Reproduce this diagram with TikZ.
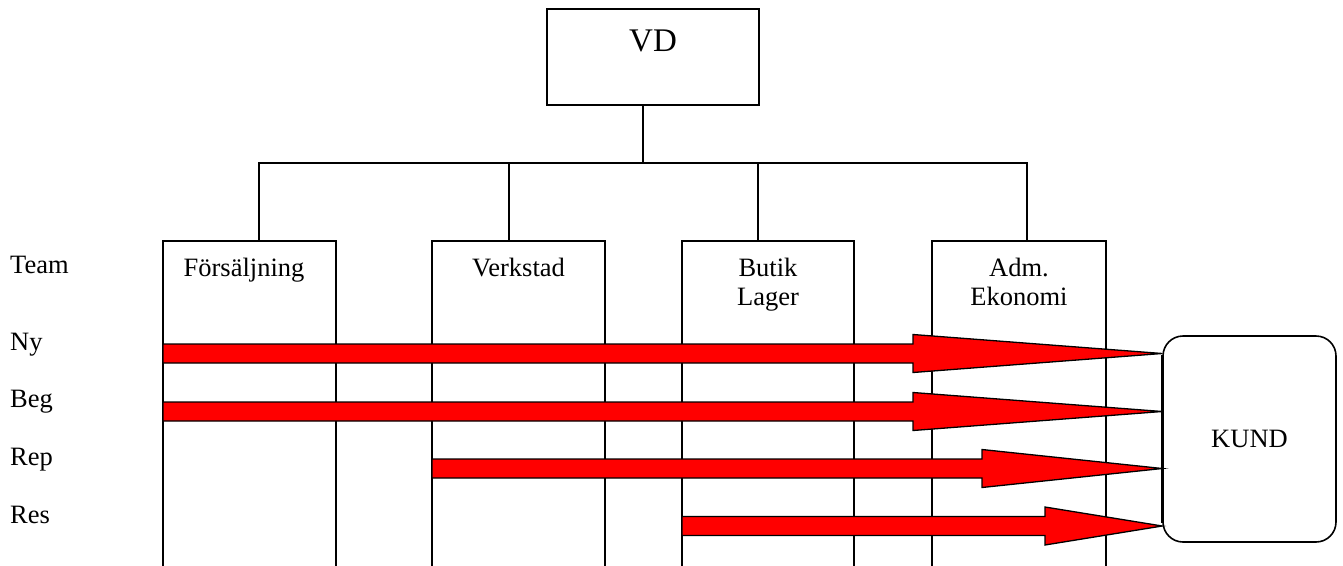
\documentclass[tikz,border=0pt]{standalone}
\usepackage{fontspec}
\setmainfont{Liberation Serif}
\usetikzlibrary{calc}
\begin{document}
\begin{tikzpicture}[x=1pt,y=-1pt,
  line/.style={draw=black,line width=1.6pt},
  box/.style={draw=black,line width=1.6pt,fill=white,rectangle,inner sep=0pt},
  colbox/.style={box,minimum width=173pt,minimum height=360pt,anchor=north},
  txt/.style={font=\fontsize{26.5}{30}\selectfont,anchor=base,inner sep=0pt},
  flow/.style={draw=black,line width=1.3pt,fill=red,line join=miter}]
\clip (0,0) rectangle (1343,565);
\fill[white] (0,0) rectangle (1343,565);
% VD
\node[box,minimum width=212pt,minimum height=96pt] (vd) at (653,57) {};
\node[font=\fontsize{33}{38}\selectfont,anchor=base,inner sep=0pt] (vdt) at (653,51) {VD};
% columns
\node[colbox] (c1) at (249.5,240) {};
\node[colbox] (c2) at (518.5,240) {};
\node[colbox,minimum width=172pt] (c3) at (768,240) {};
\node[colbox,minimum width=174pt] (c4) at (1019,240) {};
% tree connectors
\coordinate (bus) at (643,163);
\coordinate (j1) at (259,163);
\coordinate (j2) at (509,163);
\coordinate (j3) at (758,163);
\coordinate (j4) at (1027,163);
\draw[line] (vd.south -| bus) -- (bus);
\draw[line] (j1 |- c1.north) -- (j1) -- (j4) -- (j4 |- c4.north);
\draw[line] (j2) -- (j2 |- c2.north);
\draw[line] (j3) -- (j3 |- c3.north);
% texts
\node[txt,anchor=base west] (team) at (10,273) {Team};
\node[txt,anchor=base west] (ny) at (10,350) {Ny};
\node[txt,anchor=base west] (beg) at (10,407) {Beg};
\node[txt,anchor=base west] (rep) at (10,465) {Rep};
\node[txt,anchor=base west] (res) at (10,523) {Res};
\node[txt] (fs) at (244,276) {Försäljning};
\node[txt] (vk) at (518.5,276) {Verkstad};
\node[txt] (bt) at (768,276) {Butik};
\node[txt] (lg) at (768,305) {Lager};
\node[txt] (adm) at (1019,276) {Adm.};
\node[txt] (ek) at (1019,305) {Ekonomi};
% KUND
\node[box,rounded corners=20pt,minimum width=173pt,minimum height=206pt,
      font=\fontsize{26.5}{30}\selectfont] (kund) at (1249.5,439) {KUND};
% flow arrows
\coordinate (a1) at (163,353.5); \coordinate (h1) at (913,353.5);
\coordinate (a2) at (163,411.5); \coordinate (h2) at (913,411.5);
\coordinate (a3) at (432,468.5); \coordinate (h3) at (982,468.5);
\coordinate (a4) at (682,526);   \coordinate (h4) at (1045,526);
\foreach \n in {1,...,4}{
  \draw[flow] ($(a\n)+(0,-9.5)$) -- ($(h\n)+(0,-9.5)$) -- ($(h\n)+(0,-19)$)
    -- (kund.west |- a\n) -- ($(h\n)+(0,19)$) -- ($(h\n)+(0,9.5)$)
    -- ($(a\n)+(0,9.5)$) -- cycle;
}
\draw[line] (kund.north west) ++(0,20) -- ($(kund.south west)+(0,-20)$);
\end{tikzpicture}
\end{document}
